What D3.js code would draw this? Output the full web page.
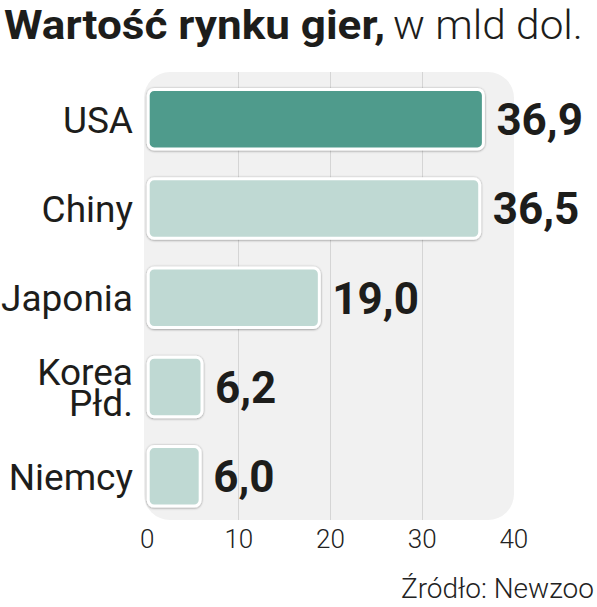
<!DOCTYPE html>
<html><head><meta charset="utf-8">
<script src="https://cdn.jsdelivr.net/npm/d3@7"></script>
<style>body{margin:0;background:#fff}svg{display:block}</style>
</head><body>
<script>
const categories = ["USA", "Chiny", "Japonia", "Korea\nPłd.", "Niemcy"];
const values = [36.9, 36.5, 19.0, 6.2, 6.0];
const highlight = ["USA"];
const ticks = [0, 10, 20, 30, 40];
const titleBold = "Wartość rynku gier,";
const titleLight = "w mld dol.";
const source = "Źródło: Newzoo";

const W = 597, H = 607;
const svg = d3.select("body").append("svg").attr("width", W).attr("height", H);
const defs = svg.append("defs");
const f = defs.append("filter").attr("id","sh").attr("x","-10%").attr("y","-20%").attr("width","120%").attr("height","140%");
f.append("feDropShadow").attr("dx",0).attr("dy",0.5).attr("stdDeviation",1.1).attr("flood-color","#000").attr("flood-opacity",0.45);

const x = d3.scaleLinear().domain([0, 40]).range([146.7, 513.3]);
const y = d3.scaleBand().domain(categories).range([74.5, 521]).paddingInner(0.3).paddingOuter(0.15);

// panel
svg.append("rect").attr("x", 144).attr("y", 72).attr("width", 370).attr("height", 448)
  .attr("rx", 26).attr("fill", "#f1f1f1");

// grid
svg.append("g").selectAll("line").data(ticks.filter(t => t > 0 && t < 40)).join("line")
  .attr("x1", d => Math.round(x(d)) + 0.5).attr("x2", d => Math.round(x(d)) + 0.5)
  .attr("y1", 72).attr("y2", 520).attr("stroke", "#d5d5d5").attr("stroke-width", 1);

// axis labels
const axis = d3.axisBottom(x).tickValues(ticks).tickSize(0).tickPadding(0).tickFormat(d3.format("d"));
const ag = svg.append("g").attr("transform", "translate(0,530)").call(axis);
ag.select(".domain").remove();
ag.selectAll("text").attr("font-family", "Roboto").attr("font-weight", 300)
  .attr("font-size", 26).attr("fill", "#222").attr("dy", "0.71em");

// bars
const data = categories.map((c, i) => ({c, v: values[i]}));
svg.append("g").selectAll("rect").data(data).join("rect")
  .attr("x", x(0) + 1.5).attr("y", d => y(d.c) + 1.5)
  .attr("width", d => x(d.v) - x(0) - 3).attr("height", y.bandwidth() - 3)
  .attr("rx", 6)
  .attr("fill", d => highlight.includes(d.c) ? "#4f9b8c" : "#bfd9d3")
  .attr("stroke", "#fff").attr("stroke-width", 3)
  .attr("filter", "url(#sh)");

// values
svg.append("g").selectAll("text").data(data).join("text")
  .attr("x", d => x(d.v) + 11.5).attr("y", d => y(d.c) + y.bandwidth()/2 + 16)
  .attr("font-family", "Roboto").attr("font-weight", 700).attr("font-size", 44)
  .attr("fill", "#1d1d1b")
  .text(d => d3.format(".1f")(d.v).replace(".", ","));

// categories
const cg = svg.append("g").selectAll("text").data(data).join("text")
  .attr("text-anchor", "end")
  .attr("font-family", "Roboto").attr("font-size", 37).attr("fill", "#1d1d1b");
cg.each(function(d) {
  const lines = d.c.split("\n");
  const cy = y(d.c) + y.bandwidth()/2;
  const lh = 31;
  const first = cy + 13.5 - (lines.length - 1) * lh / 2;
  d3.select(this).selectAll("tspan").data(lines).join("tspan")
    .attr("x", 133).attr("y", (l, i) => first + i * lh).text(l => l);
});

// title
svg.append("text").attr("x", 4).attr("y", 39)
  .attr("font-family", "Roboto").attr("font-weight", 700).attr("font-size", 41)
  .attr("fill", "#1d1d1b").attr("textLength", 381).attr("lengthAdjust", "spacingAndGlyphs")
  .text(titleBold);
svg.append("text").attr("x", 393).attr("y", 39)
  .attr("font-family", "Roboto").attr("font-weight", 300).attr("font-size", 41)
  .attr("fill", "#1d1d1b").attr("textLength", 190).attr("lengthAdjust", "spacingAndGlyphs")
  .text(titleLight);

// source
svg.append("text").attr("x", 594).attr("y", 598).attr("text-anchor", "end")
  .attr("font-family", "Roboto").attr("font-weight", 300).attr("font-size", 28)
  .attr("fill", "#222").text(source);
</script>
</body></html>
